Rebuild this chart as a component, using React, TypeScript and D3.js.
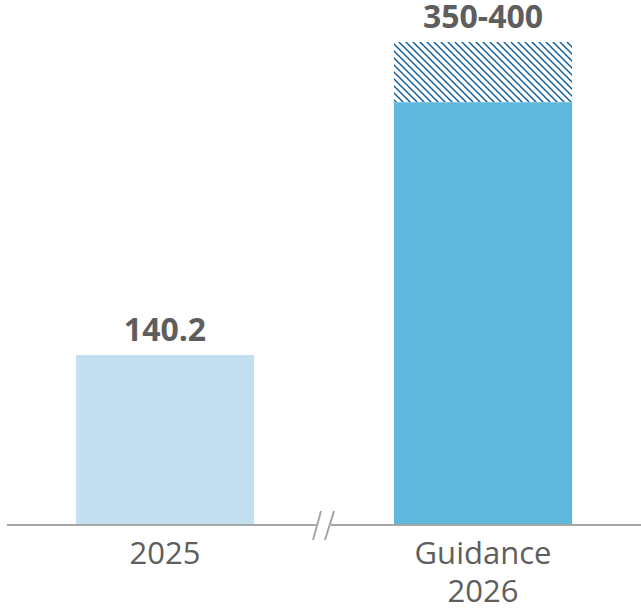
import React from "react";
import * as d3 from "d3";

const categories = ["2025", "Guidance 2026"];
const categoryLines = [["2025"], ["Guidance", "2026"]];
const baseValues = [140.2, 350];
const rangeTop = [null, 400];
const valueLabels = ["140.2", "350-400"];

const W = 641;
const H = 609;
const baseline = 524;
const textColor = "#5e5e5e";
const barColors = ["#c3e0f0", "#5fb8db"];
const hatchColor = "#0b5a9b";
const axisColor = "#a6a6a6";

export default function App() {
  const x = d3
    .scaleBand<string>()
    .domain(categories)
    .range([6, 642])
    .paddingInner(0.44)
    .paddingOuter(0.22);
  const y = d3.scaleLinear().domain([0, 400]).range([baseline, 42]);
  const bw = x.bandwidth();
  const breakX = (x(categories[0])! + bw + x(categories[1])!) / 2;

  return (
    <svg
      width={W}
      height={H}
      style={{ position: "absolute", left: 0, top: 0, fontFamily: "'Open Sans', sans-serif" }}
    >
      <defs>
        <pattern id="hatch" patternUnits="userSpaceOnUse" width={7} height={7}>
          <rect width={7} height={7} fill="#ffffff" />
          <path d="M-2,-2 L9,9 M-2,5 L2,9 M5,-2 L9,2" stroke={hatchColor} strokeWidth={1.4} />
        </pattern>
      </defs>
      {categories.map((c, i) => {
        const x0 = x(c)!;
        const top = rangeTop[i];
        return (
          <g key={c}>
            {top !== null && (
              <rect
                x={x0}
                y={y(top as number)}
                width={bw}
                height={y(baseValues[i]) - y(top as number)}
                fill="url(#hatch)"
              />
            )}
            <rect
              x={x0}
              y={y(baseValues[i])}
              width={bw}
              height={baseline - y(baseValues[i])}
              fill={barColors[i]}
            />
            <text
              x={x0 + bw / 2}
              y={y(top !== null ? (top as number) : baseValues[i]) - 14}
              textAnchor="middle"
              fontSize={32}
              fontWeight={700}
              fill={textColor}
            >
              {valueLabels[i]}
            </text>
            {categoryLines[i].map((line, j) => (
              <text
                key={j}
                x={x0 + bw / 2}
                y={564 + j * 38}
                textAnchor="middle"
                fontSize={31}
                fill={textColor}
              >
                {line}
              </text>
            ))}
          </g>
        );
      })}
      <line x1={7} x2={breakX - 8} y1={baseline + 1} y2={baseline + 1} stroke={axisColor} strokeWidth={2} />
      <line x1={breakX + 7} x2={641} y1={baseline + 1} y2={baseline + 1} stroke={axisColor} strokeWidth={2} />
      <line x1={breakX - 3} y1={511} x2={breakX - 11} y2={540} stroke={axisColor} strokeWidth={2} />
      <line x1={breakX + 10} y1={511} x2={breakX + 1} y2={540} stroke={axisColor} strokeWidth={2} />
    </svg>
  );
}
